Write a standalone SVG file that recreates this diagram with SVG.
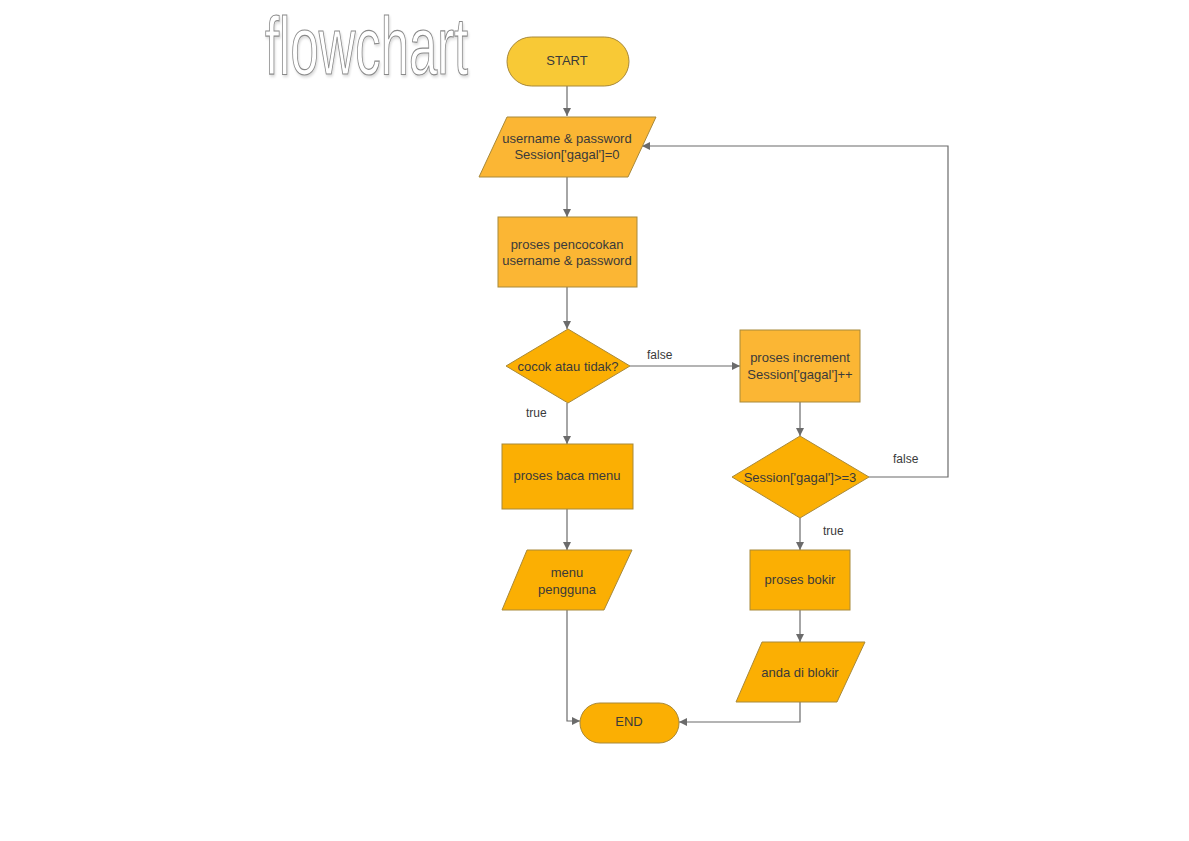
<svg xmlns="http://www.w3.org/2000/svg" width="1189" height="841" viewBox="0 0 1189 841">
<style>
.s{stroke:#A8893A;stroke-width:1}
.y{fill:#F8C936}
.o1{fill:#FBB634}
.o2{fill:#FBAF03}
.t{font-family:"Liberation Sans",Arial,sans-serif;font-size:13px;fill:#3a3a3a;text-anchor:middle}
.lb{font-family:"Liberation Sans",Arial,sans-serif;font-size:12px;fill:#3a3a3a}
.c{fill:none;stroke:#6b6b6b;stroke-width:1.2}
</style>
<defs>
<marker id="ar" viewBox="0 0 10 10" refX="10" refY="5" markerWidth="8" markerHeight="8" markerUnits="userSpaceOnUse" orient="auto">
<path d="M0,0 L10,5 L0,10 z" fill="#6b6b6b"/>
</marker>
<filter id="sh" x="-10%" y="-10%" width="130%" height="130%">
<feGaussianBlur in="SourceAlpha" stdDeviation="1.5"/>
<feOffset dx="2" dy="2"/>
<feComponentTransfer><feFuncA type="linear" slope="0.15"/></feComponentTransfer>
<feMerge><feMergeNode/><feMergeNode in="SourceGraphic"/></feMerge>
</filter>
</defs>
<rect width="1189" height="841" fill="#ffffff"/>
<g id="title" transform="translate(265,74) scale(0.627,1)">
<text x="0" y="0" font-family="'Liberation Sans',Arial,sans-serif" font-size="81" fill="#ffffff" stroke="#8a8a8a" stroke-width="1" vector-effect="non-scaling-stroke" filter="url(#sh)">flowchart</text>
</g>
<g id="connectors">
<path class="c" d="M567,86 V116" marker-end="url(#ar)"/>
<path class="c" d="M567,177 V217" marker-end="url(#ar)"/>
<path class="c" d="M567,287 V329" marker-end="url(#ar)"/>
<path class="c" d="M630,366 H740" marker-end="url(#ar)"/>
<path class="c" d="M567,403 V444" marker-end="url(#ar)"/>
<path class="c" d="M567,509 V550" marker-end="url(#ar)"/>
<path class="c" d="M567,610 V721 H580" marker-end="url(#ar)"/>
<path class="c" d="M800,402 V436" marker-end="url(#ar)"/>
<path class="c" d="M869,477 H948 V146 H642" marker-end="url(#ar)"/>
<path class="c" d="M800,518 V550" marker-end="url(#ar)"/>
<path class="c" d="M800,610 V642" marker-end="url(#ar)"/>
<path class="c" d="M800,702 V722 H679" marker-end="url(#ar)"/>
<text class="lb" x="647" y="359">false</text>
<text class="lb" x="526" y="417">true</text>
<text class="lb" x="893" y="463">false</text>
<text class="lb" x="823" y="535">true</text>
</g>
<g id="start">
<rect class="s y" x="507" y="37" width="122" height="49" rx="24.5"/>
<text class="t" x="567" y="65">START</text>
</g>
<g id="input">
<polygon class="s o1" points="507,117 656,117 628,177 479,177"/>
<text class="t" x="567" y="143">username &amp; password</text>
<text class="t" x="567" y="159">Session['gagal']=0</text>
</g>
<g id="pencocokan">
<rect class="s o1" x="498" y="217" width="139" height="70"/>
<text class="t" x="567" y="249">proses pencocokan</text>
<text class="t" x="567" y="265">username &amp; password</text>
</g>
<g id="cocok">
<polygon class="s o2" points="568,329 630,366 568,403 506,366"/>
<text class="t" x="568" y="371">cocok atau tidak?</text>
</g>
<g id="increment">
<rect class="s o1" x="740" y="330" width="120" height="72"/>
<text class="t" x="800" y="362">proses increment</text>
<text class="t" x="800" y="379">Session['gagal']++</text>
</g>
<g id="cek">
<polygon class="s o2" points="800,436 869,477 800,518 732,477"/>
<text class="t" x="800" y="482">Session['gagal']&gt;=3</text>
</g>
<g id="baca">
<rect class="s o2" x="502" y="444" width="131" height="65"/>
<text class="t" x="567" y="480">proses baca menu</text>
</g>
<g id="menu">
<polygon class="s o2" points="527,550 632,550 604,610 502,610"/>
<text class="t" x="567" y="577">menu</text>
<text class="t" x="567" y="594">pengguna</text>
</g>
<g id="bokir">
<rect class="s o2" x="750" y="550" width="100" height="60"/>
<text class="t" x="800" y="584">proses bokir</text>
</g>
<g id="blokir">
<polygon class="s o2" points="762,642 865,642 837,702 736,702"/>
<text class="t" x="800" y="677">anda di blokir</text>
</g>
<g id="end">
<rect class="s o2" x="580" y="703" width="99" height="40" rx="20"/>
<text class="t" x="629" y="726">END</text>
</g>
</svg>
